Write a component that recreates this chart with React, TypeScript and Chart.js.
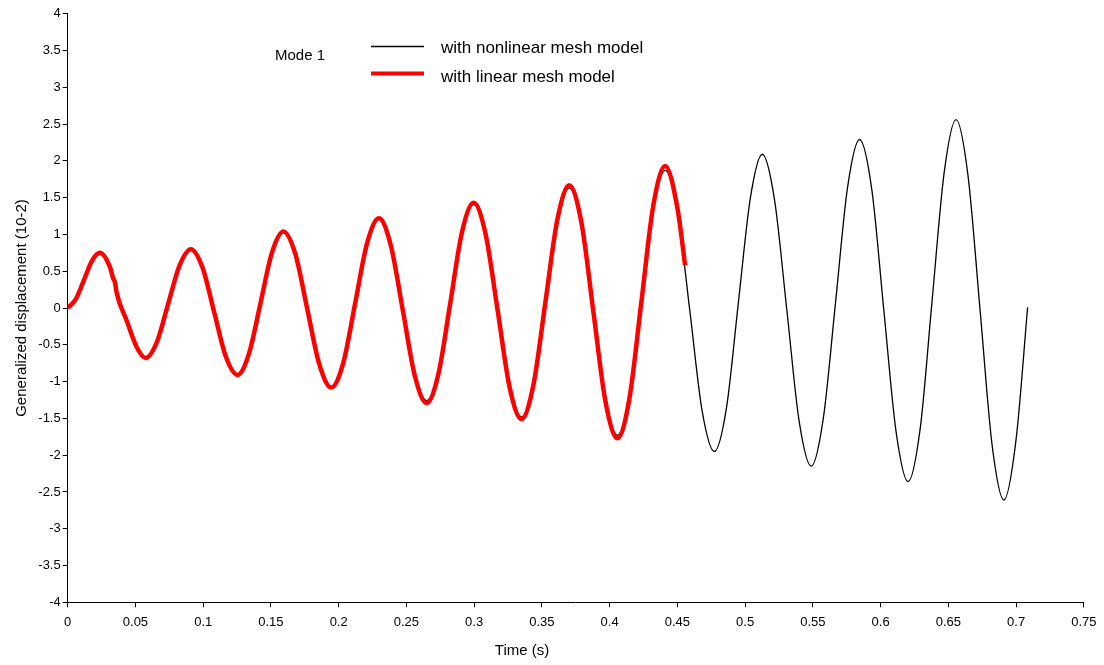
import { useEffect, useRef } from "react";
import { Chart, registerables } from "chart.js";

Chart.register(...registerables);

const nonlinearTime = [
  0, 0.006, 0.0119, 0.0179, 0.0238,
  0.0312, 0.0336, 0.0349, 0.0361, 0.0435, 0.0509, 0.0575,
  0.0659, 0.0742, 0.0826, 0.0909,
  0.0995, 0.1081, 0.1167, 0.1253,
  0.1338, 0.1423, 0.1507, 0.1592,
  0.1681, 0.1769, 0.1858, 0.1946,
  0.2034, 0.2122, 0.2209, 0.2297,
  0.2385, 0.2474, 0.2562, 0.265,
  0.2737, 0.2824, 0.291, 0.2997,
  0.3085, 0.3174, 0.3262, 0.335,
  0.3438, 0.3526, 0.3614, 0.3702,
  0.3791, 0.388, 0.3969, 0.4058,
  0.4146, 0.4234, 0.4322, 0.441,
  0.4501, 0.4592, 0.4682, 0.4773,
  0.4862, 0.495, 0.5039, 0.5127,
  0.5217, 0.5308, 0.5398, 0.5488,
  0.5577, 0.5667, 0.5756, 0.5845,
  0.5935, 0.6024, 0.6114, 0.6203,
  0.6292, 0.638, 0.6469, 0.6557,
  0.6645, 0.6734, 0.6822, 0.691,
  0.6999, 0.7085,
];
const nonlinearDisp = [
  0, 0.12, 0.375, 0.64, 0.75,
  0.555, 0.4, 0.35, 0.21, -0.17, -0.53, -0.68,
  -0.46, 0.06, 0.58, 0.8,
  0.55, -0.055, -0.66, -0.91,
  -0.62, 0.065, 0.75, 1.04,
  0.73, -0.02, -0.77, -1.08,
  -0.745, 0.065, 0.875, 1.21,
  0.85, -0.025, -0.9, -1.26,
  -0.87, 0.075, 1.02, 1.41,
  0.99, -0.035, -1.06, -1.48,
  -1.02, 0.075, 1.17, 1.63,
  1.14, -0.05, -1.24, -1.73,
  -1.2, 0.07, 1.34, 1.87,
  1.31, -0.04, -1.39, -1.95,
  -1.36, 0.07, 1.5, 2.09,
  1.47, -0.03, -1.53, -2.15,
  -1.5, 0.07, 1.64, 2.29,
  1.61, -0.035, -1.68, -2.36,
  -1.64, 0.1, 1.84, 2.56,
  1.8, -0.025, -1.85, -2.61,
  -1.8, 0.01,
];

const linearTime = [
  0, 0.006, 0.0119, 0.0179, 0.0238,
  0.0312, 0.0336, 0.0349, 0.0361, 0.0435, 0.0509, 0.0575,
  0.0659, 0.0742, 0.0826, 0.0909,
  0.0995, 0.1081, 0.1167, 0.1253,
  0.1338, 0.1423, 0.1507, 0.1592,
  0.1681, 0.1769, 0.1858, 0.1946,
  0.2034, 0.2122, 0.2209, 0.2297,
  0.2385, 0.2474, 0.2562, 0.265,
  0.2737, 0.2824, 0.291, 0.2997,
  0.3085, 0.3174, 0.3262, 0.335,
  0.3438, 0.3526, 0.3614, 0.3702,
  0.3791, 0.388, 0.3969, 0.4058,
  0.4146, 0.4234, 0.4322, 0.441,
  0.4501, 0.4557,
];
const linearDisp = [
  0, 0.12, 0.375, 0.64, 0.75,
  0.555, 0.4, 0.35, 0.21, -0.17, -0.53, -0.68,
  -0.46, 0.06, 0.58, 0.8,
  0.55, -0.055, -0.66, -0.91,
  -0.62, 0.065, 0.75, 1.04,
  0.73, -0.02, -0.77, -1.08,
  -0.745, 0.065, 0.875, 1.22,
  0.85, -0.035, -0.92, -1.29,
  -0.89, 0.07, 1.03, 1.43,
  1.0, -0.04, -1.08, -1.51,
  -1.04, 0.08, 1.2, 1.67,
  1.17, -0.05, -1.27, -1.77,
  -1.23, 0.08, 1.39, 1.93,
  1.35, 0.58,
];

const seriesLabels = ["with nonlinear mesh model", "with linear mesh model"];
const seriesColors = ["#000000", "#ff0000"];
const modeLabel = "Mode 1";
const xTitle = "Time (s)";
const yTitle = "Generalized displacement (10-2)";

const xTicks = [0, 0.05, 0.1, 0.15, 0.2, 0.25, 0.3, 0.35, 0.4, 0.45, 0.5, 0.55, 0.6, 0.65, 0.7, 0.75];
const xTickLabels = ["0", "0.05", "0.1", "0.15", "0.2", "0.25", "0.3", "0.35", "0.4", "0.45", "0.5", "0.55", "0.6", "0.65", "0.7", "0.75"];
const yTicks = [-4, -3.5, -3, -2.5, -2, -1.5, -1, -0.5, 0, 0.5, 1, 1.5, 2, 2.5, 3, 3.5, 4];
const yTickLabels = ["-4", "-3.5", "-3", "-2.5", "-2", "-1.5", "-1", "-0.5", "0", "0.5", "1", "1.5", "2", "2.5", "3", "3.5", "4"];

const FONT = '"Liberation Sans", Arial, Helvetica, sans-serif';

const textPlugin = {
  id: "textPlugin",
  afterDraw(chart: any) {
    const ctx = chart.ctx as CanvasRenderingContext2D;
    ctx.save();
    ctx.fillStyle = "#000";
    ctx.textBaseline = "alphabetic";
    ctx.textAlign = "left";
    ctx.font = `15px ${FONT}`;
    ctx.fillText(modeLabel, 275, 59.5);

    // legend
    ctx.lineCap = "butt";
    ctx.strokeStyle = seriesColors[0];
    ctx.lineWidth = 1.3;
    ctx.beginPath();
    ctx.moveTo(371, 46.5);
    ctx.lineTo(424, 46.5);
    ctx.stroke();
    ctx.strokeStyle = seriesColors[1];
    ctx.lineWidth = 4;
    ctx.beginPath();
    ctx.moveTo(371, 73.5);
    ctx.lineTo(424, 73.5);
    ctx.stroke();
    ctx.font = `17px ${FONT}`;
    ctx.fillText(seriesLabels[0], 441, 53);
    ctx.fillText(seriesLabels[1], 441, 81.5);

    // x title
    ctx.font = `15px ${FONT}`;
    ctx.textAlign = "center";
    ctx.fillText(xTitle, 522, 654.5);
    ctx.restore();
  },
};

export default function App() {
  const ref = useRef<HTMLCanvasElement | null>(null);

  useEffect(() => {
    if (!ref.current) return;
    const chart = new Chart(ref.current, {
      type: "line",
      data: {
        datasets: [
          {
            label: seriesLabels[0],
            data: nonlinearTime.map((t, i) => ({ x: t, y: nonlinearDisp[i] })),
            borderColor: seriesColors[0],
            borderWidth: 1.3,
            pointRadius: 0,
            cubicInterpolationMode: "monotone",
            fill: false,
            order: 2,
          },
          {
            label: seriesLabels[1],
            data: linearTime.map((t, i) => ({ x: t, y: linearDisp[i] })),
            borderColor: seriesColors[1],
            borderWidth: 4.5,
            pointRadius: 0,
            cubicInterpolationMode: "monotone",
            fill: false,
            order: 1,
          },
        ],
      },
      options: {
        animation: false,
        responsive: false,
        maintainAspectRatio: false,
        layout: { padding: { left: 0, top: 13.7, right: 18.7, bottom: 0 } },
        plugins: {
          legend: { display: false },
          tooltip: { enabled: false },
          title: { display: false },
        },
        scales: {
          x: {
            type: "linear",
            min: 0,
            max: 0.75,
            afterBuildTicks: (s: any) => {
              s.ticks = xTicks.map((v) => ({ value: v }));
            },
            afterFit: (s: any) => {
              s.height = 62.7;
            },
            ticks: {
              autoSkip: false,
              maxRotation: 0,
              minRotation: 0,
              padding: 7.5,
              color: "#000",
              font: { family: FONT, size: 13 },
              callback: (_v: any, i: number) => xTickLabels[i],
            },
            grid: {
              drawOnChartArea: false,
              drawTicks: true,
              tickLength: 5,
              color: "#000",
              tickColor: "#000",
            },
            border: { display: true, color: "#000", width: 1 },
          },
          y: {
            type: "linear",
            min: -4,
            max: 4,
            afterBuildTicks: (s: any) => {
              s.ticks = yTicks.map((v) => ({ value: v }));
            },
            afterFit: (s: any) => {
              s.width = 67.7;
            },
            ticks: {
              autoSkip: false,
              padding: 2,
              color: "#000",
              font: { family: FONT, size: 13 },
              callback: (_v: any, i: number) => yTickLabels[i],
            },
            grid: {
              drawOnChartArea: false,
              drawTicks: true,
              tickLength: 5,
              color: "#000",
              tickColor: "#000",
            },
            border: { display: true, color: "#000", width: 1 },
            title: {
              display: true,
              text: yTitle,
              color: "#000",
              font: { family: FONT, size: 15 },
              padding: { top: 12.5, bottom: 0 },
            },
          },
        },
      },
      plugins: [textPlugin],
    });
    return () => chart.destroy();
  }, []);

  return (
    <div style={{ position: "absolute", left: 0, top: 0, width: 1104, height: 665 }}>
      <canvas ref={ref} width={1104} height={665} style={{ display: "block", width: 1104, height: 665 }} />
    </div>
  );
}
